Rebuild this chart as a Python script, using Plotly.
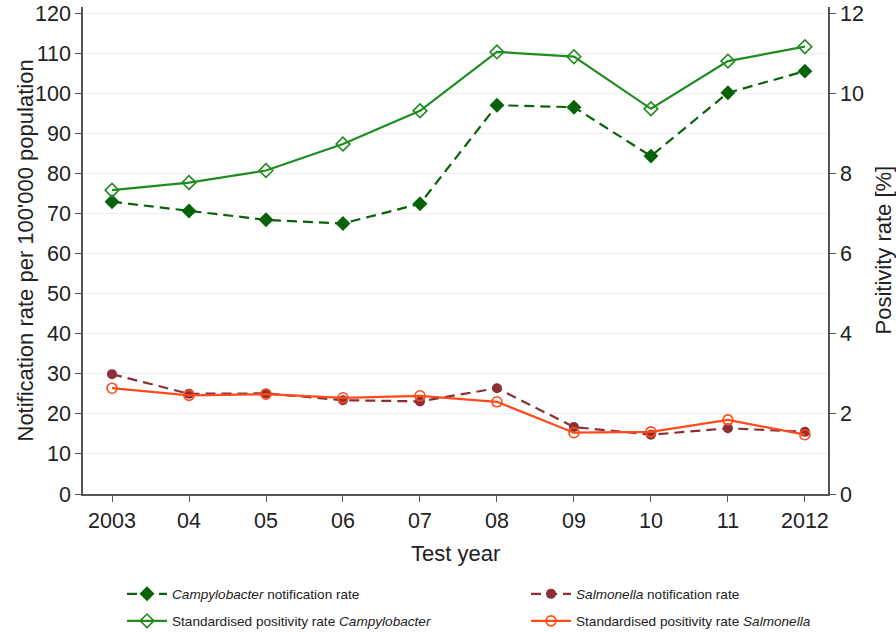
import plotly.graph_objects as go

years = [2003, 2004, 2005, 2006, 2007, 2008, 2009, 2010, 2011, 2012]
year_labels = ["2003", "04", "05", "06", "07", "08", "09", "10", "11", "2012"]

campy_notif = [72.9, 70.6, 68.4, 67.5, 72.4, 97.0, 96.5, 84.3, 100.1, 105.5]
campy_pos = [7.58, 7.77, 8.07, 8.73, 9.56, 11.03, 10.91, 9.61, 10.80, 11.16]
salm_notif = [29.9, 25.0, 25.1, 23.4, 23.1, 26.4, 16.7, 14.8, 16.4, 15.5]
salm_pos = [2.64, 2.46, 2.49, 2.40, 2.45, 2.30, 1.53, 1.55, 1.85, 1.48]

c_cn = "#086308"
c_cp = "#1e8c1e"
c_sn = "#8b2e38"
c_sp = "#ff4a1a"

fig = go.Figure()
fig.add_trace(go.Scatter(
    x=years, y=campy_notif, mode="lines+markers",
    name="<i>Campylobacter</i> notification rate",
    line=dict(color=c_cn, width=2.2, dash="10px,6px"),
    marker=dict(symbol="diamond", size=11.5, color=c_cn),
    yaxis="y", legend="legend"))
fig.add_trace(go.Scatter(
    x=years, y=campy_pos, mode="lines+markers",
    name="Standardised positivity rate <i>Campylobacter</i>",
    line=dict(color=c_cp, width=2.2),
    marker=dict(symbol="diamond-open", size=10.5, color=c_cp, line=dict(width=1.6)),
    yaxis="y2", legend="legend2"))
fig.add_trace(go.Scatter(
    x=years, y=salm_notif, mode="lines+markers",
    name="<i>Salmonella</i> notification rate",
    line=dict(color=c_sn, width=2.2, dash="10px,6px"),
    marker=dict(symbol="circle", size=10, color=c_sn),
    yaxis="y", legend="legend3"))
fig.add_trace(go.Scatter(
    x=years, y=salm_pos, mode="lines+markers",
    name="Standardised positivity rate <i>Salmonella</i>",
    line=dict(color=c_sp, width=2.2),
    marker=dict(symbol="circle-open", size=10, color=c_sp, line=dict(width=1.6)),
    yaxis="y2", legend="legend4"))

axis_col = "#555555"
fs = 21.5
fam = "Liberation Sans, Arial, sans-serif"


def leg(xpx, ypx):
    return dict(
        orientation="v", x=xpx / 896, xref="container", y=1 - ypx / 632, yref="container",
        xanchor="left", yanchor="middle",
        font=dict(size=13.6, color="#222222", family=fam),
        bgcolor="rgba(0,0,0,0)", borderwidth=0, itemwidth=40,
    )


fig.update_layout(
    width=896, height=632,
    margin=dict(l=83, r=68, t=7, b=138, autoexpand=False),
    paper_bgcolor="white", plot_bgcolor="white",
    font=dict(family=fam, color="#222222", size=fs),
    showlegend=True,
    xaxis=dict(
        range=[2003 - 0.377, 2012 + 0.3],
        tickmode="array", tickvals=years, ticktext=year_labels,
        showline=True, linecolor=axis_col, linewidth=1.5,
        ticks="outside", ticklen=6, tickcolor=axis_col, tickwidth=1.2,
        showgrid=False, zeroline=False, tickfont=dict(size=fs),
    ),
    yaxis=dict(
        range=[0, 121.5],
        tickmode="array", tickvals=list(range(0, 121, 10)),
        showline=True, linecolor=axis_col, linewidth=1.5,
        ticks="outside", ticklen=6, tickcolor=axis_col, tickwidth=1.2,
        showgrid=True, gridcolor="#eeeeee", gridwidth=1, zeroline=False,
        tickfont=dict(size=fs),
    ),
    yaxis2=dict(
        range=[0, 12.15], overlaying="y", side="right",
        tickmode="array", tickvals=[0, 2, 4, 6, 8, 10, 12],
        showline=True, linecolor=axis_col, linewidth=1.5,
        ticks="outside", ticklen=6, tickcolor=axis_col, tickwidth=1.2,
        showgrid=False, zeroline=False, tickfont=dict(size=fs),
    ),
    legend=leg(122, 594),
    legend2=leg(122, 621),
    legend3=leg(526, 594),
    legend4=leg(526, 621),
    annotations=[
        dict(text="Notification rate per 100'000 population", xref="paper", yref="paper",
             x=(25 - 83) / 745, y=0.5, textangle=-90, showarrow=False,
             xanchor="center", yanchor="middle", font=dict(size=22, family=fam, color="#222222")),
        dict(text="Positivity rate [%]", xref="paper", yref="paper",
             x=(883 - 83) / 745, y=0.5, textangle=-90, showarrow=False,
             xanchor="center", yanchor="middle", font=dict(size=22, family=fam, color="#222222")),
        dict(text="Test year", xref="paper", yref="paper",
             x=(455 - 83) / 745, y=(494 - 553) / 487, showarrow=False,
             xanchor="center", yanchor="middle", font=dict(size=22, family=fam, color="#222222")),
    ],
)

fig.write_html("out.html", config={"displayModeBar": False},
               post_script="document.body.style.margin='0';")
